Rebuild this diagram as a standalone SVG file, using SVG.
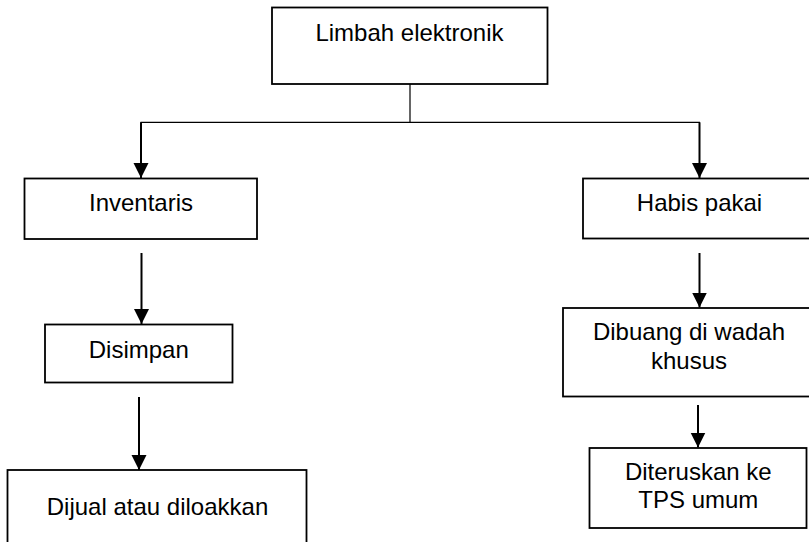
<svg xmlns="http://www.w3.org/2000/svg" width="809" height="542" viewBox="0 0 809 542">
<style>
.box{fill:#fff;stroke:#000;stroke-width:1.8}
.lbl{font-family:"Liberation Sans",Arial,sans-serif;font-size:24px;fill:#000;text-anchor:middle}
.thin{stroke:#000;stroke-width:1.2;fill:none}
.arr{stroke:#000;stroke-width:2;fill:none;marker-end:url(#ah)}
</style>
<defs>
<marker id="ah" markerUnits="userSpaceOnUse" markerWidth="16" markerHeight="16" refX="15" refY="7.5" orient="auto" viewBox="0 0 16 16">
<path d="M0,0 L15,7.5 L0,15 z" fill="#000"/>
</marker>
</defs>
<rect width="809" height="542" fill="#fff"/>
<g id="connectors">
<path class="thin" d="M410,84 V122.3 M140.5,122.3 H700"/>
<line class="arr" x1="141" y1="122.3" x2="141" y2="178"/>
<line class="arr" x1="699.5" y1="122.3" x2="699.5" y2="178"/>
<line class="arr" x1="141.5" y1="253" x2="141.5" y2="324"/>
<line class="arr" x1="139" y1="397" x2="139" y2="470"/>
<line class="arr" x1="699.5" y1="253" x2="699.5" y2="307.5"/>
<line class="arr" x1="698" y1="405" x2="698" y2="447.5"/>
</g>
<g id="n-limbah">
<rect class="box" x="272" y="7.5" width="275.5" height="76.5"/>
<text class="lbl" x="409.5" y="41">Limbah elektronik</text>
</g>
<g id="n-inventaris">
<rect class="box" x="24.5" y="178.5" width="232.5" height="60.5"/>
<text class="lbl" x="141" y="211">Inventaris</text>
</g>
<g id="n-habis">
<rect class="box" x="583" y="178.5" width="240" height="60"/>
<text class="lbl" x="699.5" y="211">Habis pakai</text>
</g>
<g id="n-disimpan">
<rect class="box" x="45" y="324.5" width="187.5" height="58"/>
<text class="lbl" x="138.8" y="357.5">Disimpan</text>
</g>
<g id="n-dijual">
<rect class="box" x="7.5" y="470" width="299" height="80"/>
<text class="lbl" x="157.5" y="514.5">Dijual atau diloakkan</text>
</g>
<g id="n-dibuang">
<rect class="box" x="563" y="308" width="252" height="88.5"/>
<text class="lbl" x="689" y="340">Dibuang di wadah</text>
<text class="lbl" x="689" y="368.7">khusus</text>
</g>
<g id="n-diteruskan">
<rect class="box" x="589.5" y="448" width="217" height="80"/>
<text class="lbl" x="698.3" y="480.3">Diteruskan ke</text>
<text class="lbl" x="698.3" y="507.7">TPS umum</text>
</g>
</svg>
